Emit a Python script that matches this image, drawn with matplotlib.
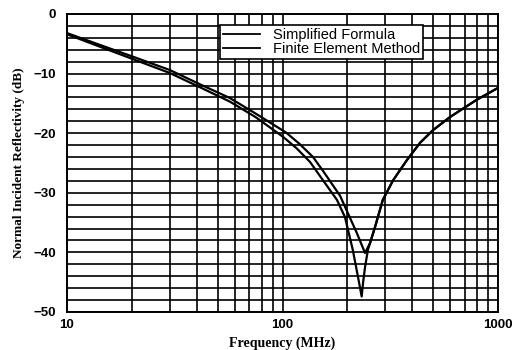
import numpy as np
import matplotlib
matplotlib.use("Agg")
import matplotlib.pyplot as plt
from matplotlib.ticker import FixedLocator, NullFormatter, FuncFormatter

# Data
freq_simplified = [10, 14, 20, 30, 42, 57, 75, 104, 120, 138.6, 154, 185, 201,
                   221, 241.5, 255, 269, 292, 326, 378, 435, 499, 598, 796, 1000]
db_simplified = [-3.2, -5.1, -7.1, -9.4, -11.9, -14.1, -16.7, -19.9, -21.8, -24.0, -26.3, -30.5, -33.4,
                 -36.7, -40.1, -38.4, -35.7, -31.2, -27.9, -24.5, -21.6, -19.5, -17.3, -14.4, -12.4]

freq_fem = [10, 14, 20, 30, 42, 57, 75, 100.5, 116, 134, 179, 195, 212, 224,
            233, 236.5, 241.5, 249, 255, 269, 292, 326, 378, 435, 499, 598, 796, 1000]
db_fem = [-3.4, -5.4, -7.5, -9.9, -12.4, -14.7, -17.3, -20.6, -22.5, -24.8, -31.2, -34.1, -39.6, -44.1,
          -47.4, -45.1, -42.5, -39.6, -38.4, -35.7, -31.2, -27.9, -24.5, -21.6, -19.5, -17.3, -14.4, -12.4]

series_labels = ["Simplified Formula", "Finite Element Method"]
x_ticks = [10, 100, 1000]
y_ticks = [0, -10, -20, -30, -40, -50]

fig = plt.figure(figsize=(5.13, 3.5), dpi=100)
ax = fig.add_axes([67/513, 1-312/350, (498-67)/513, (312-14)/350])

ax.plot(freq_simplified, db_simplified, color="black", lw=1.6, label=series_labels[0], zorder=3)
ax.plot(freq_fem, db_fem, color="black", lw=1.6, label=series_labels[1], zorder=3)

ax.set_xscale("log")
ax.set_xlim(10, 1000)
ax.set_ylim(-50, 0)

ax.xaxis.set_major_locator(FixedLocator(x_ticks))
ax.xaxis.set_major_formatter(FuncFormatter(lambda v, p: f"{int(round(v))}"))
minor_x = [m * d for d in (10, 100) for m in range(2, 10)]
ax.xaxis.set_minor_locator(FixedLocator(minor_x))
ax.xaxis.set_minor_formatter(NullFormatter())
ax.yaxis.set_major_locator(FixedLocator(y_ticks))
ax.yaxis.set_minor_locator(FixedLocator(list(np.arange(-48, 0, 2))))

ax.grid(True, which="both", color="black", lw=1.2)
ax.set_axisbelow(True)
for s in ax.spines.values():
    s.set_linewidth(1.4)

ax.tick_params(which="both", length=0)
ax.tick_params(axis="y", pad=8)
ax.tick_params(axis="x", pad=5)
for lab in ax.get_xticklabels() + ax.get_yticklabels():
    lab.set_fontfamily("Liberation Sans")
    lab.set_fontweight("bold")
    lab.set_fontsize(9.5)

ax.set_xlabel("Frequency (MHz)", fontfamily="Liberation Serif", fontweight="bold", fontsize=10, labelpad=4)
ax.set_ylabel("Normal Incident Reflectivity (dB)", fontfamily="Liberation Serif", fontweight="bold",
              fontsize=9.5, labelpad=6)

leg = ax.legend(loc="upper left", bbox_to_anchor=(0.355, 0.963), borderaxespad=0,
                frameon=True, fancybox=False, framealpha=1, edgecolor="black",
                prop={"family": "Liberation Sans", "size": 10.5}, handlelength=2.5,
                handletextpad=0.9, borderpad=0.22, labelspacing=0.0)
leg.get_frame().set_linewidth(1.2)
for h in leg.get_lines():
    h.set_linewidth(1.3)

fig.savefig("out.png", dpi=100)
